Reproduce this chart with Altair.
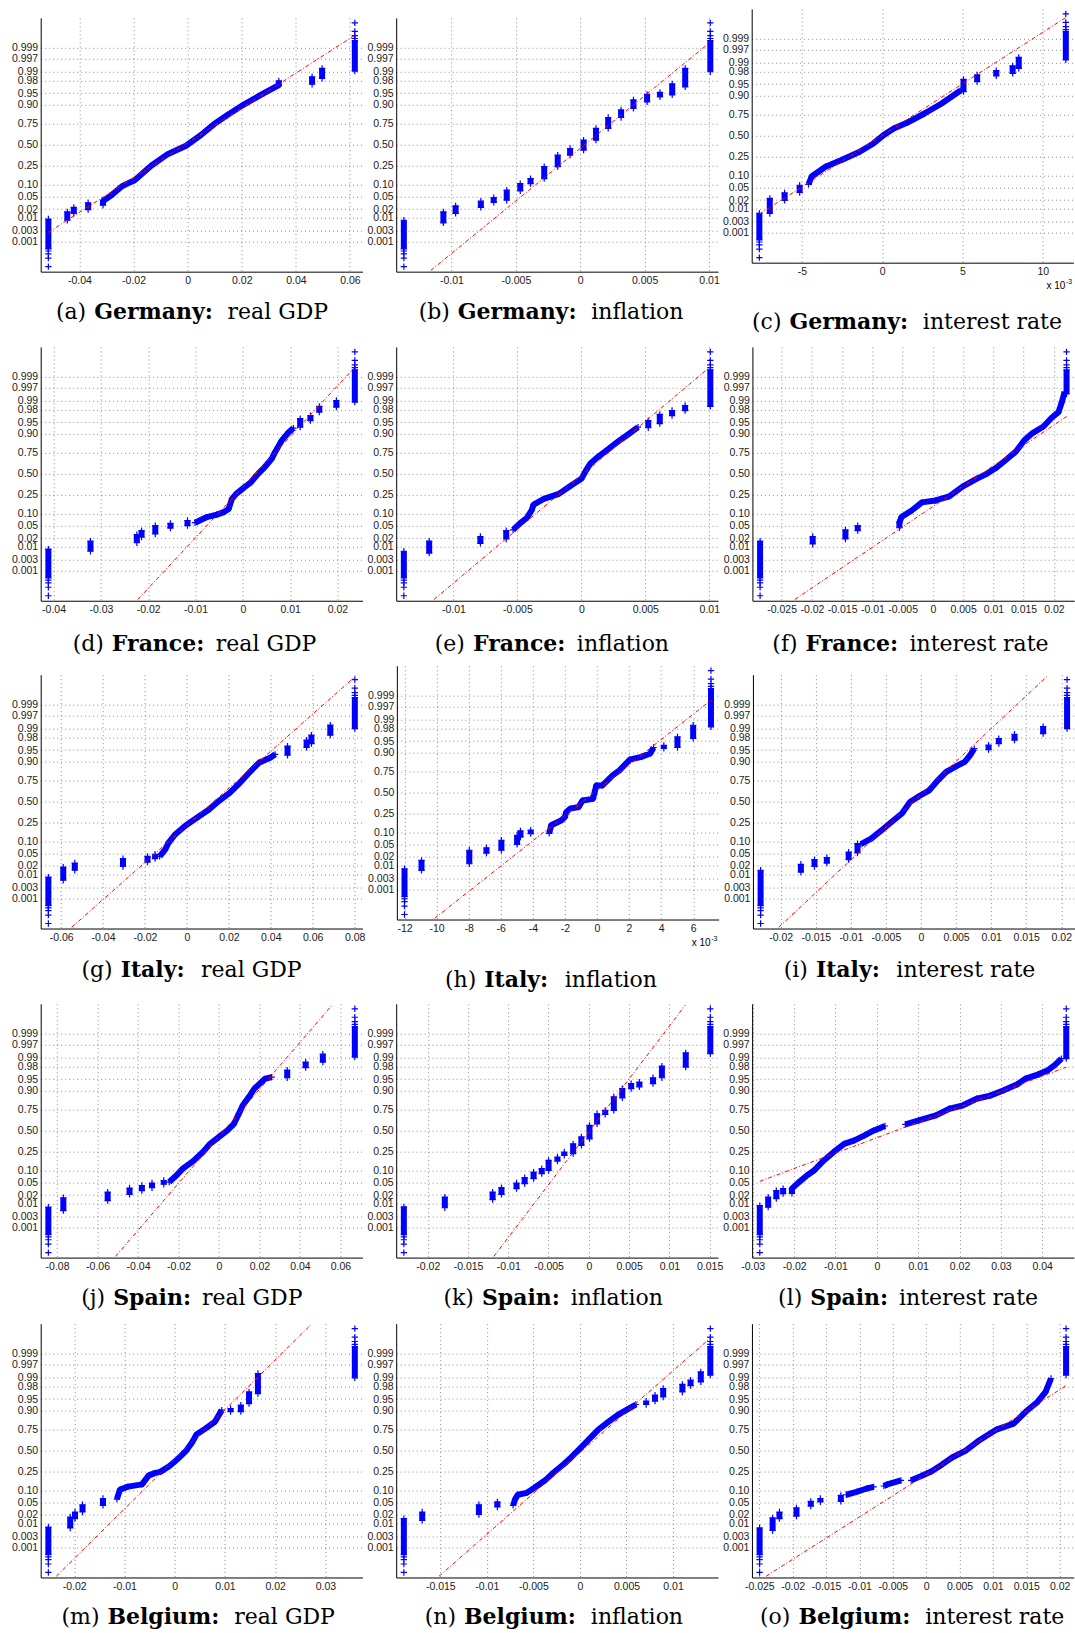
import altair as alt
import pandas as pd
from statistics import NormalDist

BLUE = "#0000ff"
RED = "#ff0000"
PLUS = "M-1,0H1M0,-1V1"

KEYS = list("abcdefghijklmno")
COUNTRY = ["Germany:"] * 3 + ["France:"] * 3 + ["Italy:"] * 3 + ["Spain:"] * 3 + ["Belgium:"] * 3
VARIABLE = ["real GDP", "inflation", "interest rate"] * 5

# smallest / largest draw (stacks of tied values) and the normal score where each stack ends
X_LOW = [-0.0515, -0.0137, -7.65, -0.0411, -0.01387, -0.02856, -0.0661, -12.0, -0.02286,
         -0.0843, -0.02297, -0.0283, -0.02514, -0.01891, -0.02495]
Z_LOW_TOP = [-2.37, -2.41, -2.48, -2.40, -2.47, -2.15, -2.41, -2.43, -2.19,
             -2.44, -2.43, -2.39, -2.44, -2.17, -2.47]
X_HIGH = [0.0618, 0.0101, 11.43, 0.02367, 0.01008, 0.0221, 0.0801, 7.11, 0.02082,
          0.0671, 0.01508, 0.04581, 0.03587, 0.014, 0.02096]
Z_HIGH_BOTTOM = [2.35, 2.33, 2.42, 2.29, 2.15, 2.55, 2.33, 2.10, 2.33,
                 2.35, 2.46, 2.30, 2.32, 2.41, 2.41]
# sample quartiles (reference line passes through them)
Q1 = [-0.0133, -0.00167, -2.09, -0.00155, -0.00182, 0.00284, 0.0014, -1.86, -0.00434,
      -0.0066, -0.0019, -0.00914, -0.0025, -0.00235, 0.00067]
Q3 = [0.0110, 0.00235, 2.01, 0.0068, 0.0021, 0.01322, 0.0242, 1.48, 0.0021,
      0.0114, 0.0021, 0.01831, 0.00602, 0.00282, 0.01064]
# normal scores of the extreme single draws in each tail, and where the solid stack starts
TAIL_Z = [3.89, 3.62, 3.48, 3.39]
STACK_Z = 3.32

# tied draws: (value, normal score low, normal score high)
CLUSTERS = {
    "a": [(-0.0445, -2.41, -2.14), (-0.0421, -2.19, -2.0), (-0.0368, -2.07, -1.85),
          (0.0460, 1.93, 2.17), (0.0497, 2.12, 2.44)],
    "b": [(-0.01063, -2.49, -2.14), (-0.00968, -2.19, -1.95), (-0.00772, -2.00, -1.80),
          (-0.00672, -1.84, -1.69), (-0.00571, -1.77, -1.45), (-0.00466, -1.47, -1.24),
          (-0.00386, -1.24, -1.08), (-0.0028, -1.08, -0.70), (-0.00175, -0.70, -0.33),
          (-0.00079, -0.33, -0.12), (0.00026, -0.17, 0.15), (0.00122, 0.15, 0.52),
          (0.00217, 0.52, 0.87), (0.00317, 0.87, 1.11), (0.00413, 1.16, 1.43),
          (0.00519, 1.37, 1.61), (0.00619, 1.53, 1.67), (0.00714, 1.59, 1.94),
          (0.00815, 1.85, 2.44)],
    "c": [(-7.0, -2.48, -2.0), (-6.08, -2.06, -1.82), (-5.14, -1.81, -1.58), (5.06, 1.41, 1.80),
          (5.91, 1.73, 1.94), (7.10, 1.91, 2.08), (8.12, 1.99, 2.23), (8.50, 2.15, 2.50)],
    "d": [(-0.0322, -2.47, -2.15), (-0.0224, -2.20, -1.94), (-0.0214, -2.02, -1.81),
          (-0.0185, -1.92, -1.65), (-0.0153, -1.73, -1.58), (-0.0117, -1.65, -1.49),
          (0.01212, 1.49, 1.76), (0.01429, 1.70, 1.86), (0.01616, 1.97, 2.15),
          (0.01977, 2.13, 2.34)],
    "e": [(-0.01189, -2.53, -2.15), (-0.00789, -2.22, -2.0), (-0.00587, -2.08, -1.81),
          (0.00523, 1.47, 1.70), (0.00613, 1.60, 1.90), (0.00709, 1.86, 2.02),
          (0.00811, 2.02, 2.18)],
    "f": [(-0.01986, -2.24, -2.0), (-0.01445, -2.08, -1.79), (-0.01242, -1.81, -1.65)],
    "g": [(-0.059, -2.51, -2.09), (-0.0535, -2.19, -1.96), (-0.0305, -2.07, -1.82),
          (-0.0188, -1.93, -1.75), (-0.0152, -1.82, -1.68), (0.0480, 1.48, 1.77),
          (0.0571, 1.73, 1.96), (0.0594, 1.85, 2.12), (0.0684, 2.12, 2.44)],
    "h": [(-10.94, -2.48, -2.16), (-7.96, -2.27, -1.84), (-6.89, -1.93, -1.76),
          (-5.96, -1.84, -1.52), (-4.98, -1.65, -1.36), (-4.77, -1.42, -1.22),
          (-4.13, -1.31, -1.20), (4.17, 1.41, 1.51), (5.02, 1.44, 1.78), (6.0, 1.73, 2.15)],
    "i": [(-0.01712, -2.25, -2.0), (-0.01518, -2.07, -1.85), (-0.01342, -1.96, -1.79),
          (-0.01031, -1.85, -1.61), (-0.00905, -1.64, -1.34), (0.00963, 1.66, 1.80),
          (0.01109, 1.85, 2.01), (0.01333, 1.96, 2.15), (0.01741, 2.17, 2.39)],
    "j": [(-0.0769, -2.55, -2.14), (-0.055, -2.23, -1.96), (-0.0442, -2.03, -1.83),
          (-0.0381, -1.91, -1.75), (-0.0331, -1.82, -1.67), (-0.0273, -1.71, -1.59),
          (0.0337, 1.69, 1.93), (0.0428, 2.01, 2.19), (0.0513, 2.19, 2.44)],
    "k": [(-0.01788, -2.46, -2.12), (-0.01195, -2.20, -1.96), (-0.01085, -2.03, -1.82),
          (-0.00898, -1.85, -1.67), (-0.00797, -1.69, -1.50), (-0.00686, -1.53, -1.32),
          (-0.00585, -1.37, -1.21), (-0.005, -1.27, -0.95), (-0.0039, -0.97, -0.84),
          (-0.00305, -0.79, -0.68), (-0.00195, -0.73, -0.42), (-0.00093, -0.47, -0.20),
          (0.00008, -0.26, 0.17), (0.00102, 0.22, 0.54), (0.00203, 0.52, 0.65),
          (0.0031, 0.65, 1.08), (0.00415, 1.05, 1.34), (0.00525, 1.34, 1.50),
          (0.00627, 1.40, 1.55), (0.00797, 1.50, 1.69), (0.00907, 1.69, 2.06),
          (0.01203, 2.03, 2.48)],
    "l": [(-0.02627, -2.44, -2.12), (-0.0243, -2.17, -1.91), (-0.02266, -2.01, -1.85)],
    "m": [(-0.02079, -2.47, -2.12), (-0.01984, -2.17, -1.96), (-0.01834, -1.96, -1.73),
          (-0.01427, -1.75, -1.53), (0.01114, 1.24, 1.34), (0.01318, 1.24, 1.45),
          (0.01481, 1.50, 1.87), (0.01658, 1.82, 2.46)],
    "n": [(-0.01694, -2.23, -1.96), (-0.01085, -2.04, -1.73), (-0.00887, -1.80, -1.64),
          (0.00711, 1.47, 1.58), (0.00806, 1.58, 1.77), (0.00894, 1.71, 1.98),
          (0.011, 1.87, 2.11), (0.01188, 2.07, 2.25), (0.01298, 2.19, 2.51)],
    "o": [(-0.023, -2.55, -2.15), (-0.02198, -2.17, -1.96), (-0.01943, -2.09, -1.83),
          (-0.01728, -1.77, -1.62), (-0.01585, -1.64, -1.53), (-0.01278, -1.62, -1.43)],
}

# densely packed draws: (value, normal score)
CURVES = {
    "a": [[(-0.0313, -1.93), (-0.0313, -1.80), (-0.0282, -1.61), (-0.0245, -1.34), (-0.0233, -1.28),
           (-0.0196, -1.13), (-0.0135, -0.67), (-0.0074, -0.30), (-0.0006, -0.03), (0.0049, 0.31),
           (0.0098, 0.66), (0.0147, 0.95), (0.0209, 1.29), (0.0282, 1.65), (0.0337, 1.90),
           (0.0337, 2.04)]],
    "b": [],
    "c": [[(-4.59, -1.55), (-4.38, -1.29), (-3.53, -0.99), (-2.46, -0.76), (-1.40, -0.51),
           (-0.55, -0.245), (0.085, 0.02), (0.72, 0.23), (1.57, 0.42), (2.63, 0.71), (3.70, 1.03),
           (4.33, 1.25), (4.90, 1.45)]],
    "d": [[(-0.0101, -1.56), (-0.0076, -1.38), (-0.0055, -1.30), (-0.0040, -1.22), (-0.0030, -1.12),
           (-0.0023, -0.80), (-0.0014, -0.64), (0.0003, -0.43), (0.0017, -0.27), (0.0032, 0.0),
           (0.0046, 0.21), (0.0061, 0.48), (0.0068, 0.69), (0.0082, 1.06), (0.0097, 1.33),
           (0.0107, 1.46)]],
    "e": [[(-0.00533, -1.79), (-0.0048, -1.58), (-0.00427, -1.41), (-0.00389, -1.17),
           (-0.00373, -0.98), (-0.00293, -0.80), (-0.00176, -0.64), (-0.0008, -0.37), (0.0, -0.16),
           (0.00037, 0.11), (0.00069, 0.32), (0.00133, 0.55), (0.00213, 0.80), (0.00293, 1.05),
           (0.00373, 1.28), (0.00443, 1.49)]],
    "f": [[(-0.00553, -1.72), (-0.00553, -1.55), (-0.00519, -1.38), (-0.0035, -1.17),
           (-0.00181, -0.91), (0.00045, -0.85), (0.00271, -0.72), (0.00497, -0.40), (0.00722, -0.16),
           (0.00892, 0.0), (0.01061, 0.21), (0.0123, 0.48), (0.01377, 0.72), (0.01512, 1.07),
           (0.01648, 1.30), (0.01828, 1.51), (0.01964, 1.79), (0.02077, 1.97), (0.02133, 2.29),
           (0.02178, 2.61)]],
    "g": [[(-0.013, -1.75), (-0.0104, -1.53), (-0.0088, -1.32), (-0.0055, -1.04), (-0.0006, -0.76),
           (0.0058, -0.47), (0.0107, -0.245), (0.0149, 0.0), (0.0204, 0.28), (0.0253, 0.60),
           (0.0301, 0.95), (0.0344, 1.24), (0.0399, 1.41), (0.0421, 1.51)]],
    "h": [[(-2.98, -1.30), (-2.85, -1.04), (-2.21, -0.88), (-2.0, -0.78), (-1.91, -0.62),
           (-1.66, -0.51), (-1.15, -0.46), (-0.89, -0.25), (-0.25, -0.20), (-0.04, 0.23),
           (0.34, 0.23), (0.98, 0.55), (1.40, 0.71), (2.04, 1.05), (2.77, 1.14), (3.32, 1.25),
           (3.53, 1.44)]],
    "i": [[(-0.00856, -1.36), (-0.0071, -1.18), (-0.00564, -0.92), (-0.00447, -0.70),
           (-0.00272, -0.38), (-0.00156, -0.01), (-0.00029, 0.17), (0.00117, 0.36), (0.00233, 0.66),
           (0.0036, 0.95), (0.00506, 1.13), (0.00623, 1.27), (0.007, 1.48), (0.00759, 1.69)]],
    "j": [[(-0.0246, -1.64), (-0.0212, -1.44), (-0.0179, -1.21), (-0.0128, -0.97), (-0.0078, -0.67),
           (-0.0044, -0.42), (0.0, -0.20), (0.004, 0.0), (0.0074, 0.22), (0.0098, 0.54),
           (0.0118, 0.81), (0.0148, 1.08), (0.0175, 1.34), (0.0209, 1.55), (0.0226, 1.65),
           (0.026, 1.71)]],
    "k": [],
    "l": [[(-0.02053, -2.0), (-0.02053, -1.85), (-0.01888, -1.65), (-0.01691, -1.43),
           (-0.01527, -1.28), (-0.01281, -0.95), (-0.01034, -0.67), (-0.00788, -0.42),
           (-0.00542, -0.31), (-0.00296, -0.15), (-0.00082, 0.0), (0.00197, 0.15)],
          [(0.0069, 0.20), (0.01018, 0.33), (0.01429, 0.49), (0.01757, 0.70), (0.02085, 0.81),
           (0.02414, 1.02), (0.02742, 1.12), (0.0307, 1.29), (0.03399, 1.48), (0.03596, 1.66),
           (0.03892, 1.79), (0.04138, 1.93), (0.04302, 2.09), (0.04466, 2.30)]],
    "m": [[(-0.0115, -1.55), (-0.0109, -1.25), (-0.0093, -1.15), (-0.0065, -1.08), (-0.0052, -0.80),
           (-0.0040, -0.72), (-0.00285, -0.68), (-0.00109, -0.50), (0.00068, -0.26), (0.00231, 0.0),
           (0.0034, 0.245), (0.00435, 0.51), (0.00611, 0.70), (0.00802, 0.92), (0.00938, 1.29)]],
    "n": [[(-0.00718, -1.75), (-0.00696, -1.55), (-0.00667, -1.41), (-0.00572, -1.35),
           (-0.00477, -1.16), (-0.00374, -0.95), (-0.00279, -0.69), (-0.00169, -0.42),
           (-0.00095, -0.22), (-0.00022, 0.0), (0.00088, 0.33), (0.00198, 0.67), (0.00308, 0.92),
           (0.00403, 1.13), (0.00491, 1.28), (0.00601, 1.47)]],
    "o": [[(-0.01196, -1.41), (-0.01043, -1.32), (-0.0089, -1.21), (-0.00787, -1.16)],
          [(-0.00634, -1.13), (-0.00583, -1.08), (-0.00378, -0.95)],
          [(-0.00225, -0.95), (-0.00072, -0.81), (0.00082, -0.66), (0.00235, -0.45), (0.00389, -0.22),
           (0.00593, 0.0), (0.00798, 0.33), (0.01053, 0.67), (0.01309, 0.86), (0.01513, 1.28),
           (0.01667, 1.55), (0.01789, 1.87), (0.01871, 2.30)]],
}

X_TICKS = {
    "a": [-0.04, -0.02, 0, 0.02, 0.04, 0.06],
    "b": [-0.01, -0.005, 0, 0.005, 0.01],
    "c": [-5, 0, 5, 10],
    "d": [-0.04, -0.03, -0.02, -0.01, 0, 0.01, 0.02],
    "e": [-0.01, -0.005, 0, 0.005, 0.01],
    "f": [-0.025, -0.02, -0.015, -0.01, -0.005, 0, 0.005, 0.01, 0.015, 0.02],
    "g": [-0.06, -0.04, -0.02, 0, 0.02, 0.04, 0.06, 0.08],
    "h": [-12, -10, -8, -6, -4, -2, 0, 2, 4, 6],
    "i": [-0.02, -0.015, -0.01, -0.005, 0, 0.005, 0.01, 0.015, 0.02],
    "j": [-0.08, -0.06, -0.04, -0.02, 0, 0.02, 0.04, 0.06],
    "k": [-0.02, -0.015, -0.01, -0.005, 0, 0.005, 0.01, 0.015],
    "l": [-0.03, -0.02, -0.01, 0, 0.01, 0.02, 0.03, 0.04],
    "m": [-0.02, -0.01, 0, 0.01, 0.02, 0.03],
    "n": [-0.015, -0.01, -0.005, 0, 0.005, 0.01],
    "o": [-0.025, -0.02, -0.015, -0.01, -0.005, 0, 0.005, 0.01, 0.015, 0.02],
}
SCALED = {"c", "h"}  # axis shown in units of 10^-3

PROB_TICKS = [0.001, 0.003, 0.01, 0.02, 0.05, 0.10, 0.25, 0.50, 0.75, 0.90, 0.95, 0.98, 0.99, 0.997, 0.999]
PROB_LABELS = ["0.001", "0.003", "0.01", "0.02", "0.05", "0.10", "0.25", "0.50", "0.75", "0.90",
               "0.95", "0.98", "0.99", "0.997", "0.999"]

# caption layout (relative to each plot's top-left corner): start of the bold word and of the plain text
CAP_XB = [53.5, 61.7, 37.8, 71.2, 76.8, 53.2, 80.0, 87.5, 63.0, 72.5, 85.8, 58.2, 66.8, 67.9, 46.5]
CAP_XN = [187.0, 195.2, 171.3, 175.2, 180.8, 157.2, 160.5, 168.0, 143.5, 161.3, 174.6, 147.0, 193.7, 194.8, 173.4]
CAP_Y = [301, 301, 320.4, 304.7, 304.7, 304.7, 302.7, 321.7, 302.7, 301.7, 301.7, 301.7, 300.6, 300.6, 300.6]

# target positions of the plot areas on the page
ROW_TOP = [8.3, 346.0, 665.0, 1003.3, 1322.7]   # top of the highest plot in each row
ROW_DROP = [[9, 9, 0], [0, 0, 0], [9, 0, 9], [0, 0, 0], [0, 0, 0]]  # extra drop of a plot in its row

W, H = 322, 254
ZMAX = 4.05
GAP = 33            # gap between neighbouring plot areas
LABEL_PAD = 3
LABEL_SIZE = 10.5
CAP_SIZE = 22
CAP_DESC = 4        # caption text box reaches this far below its baseline
ND = NormalDist()
Z_TICKS = [round(ND.inv_cdf(p), 5) for p in PROB_TICKS]
FONT_SANS = "Liberation Sans"
FONT_SERIF = "DejaVu Serif"
CHAR_W = {"0": 0.556, "1": 0.556, "2": 0.556, "3": 0.556, "4": 0.556, "5": 0.556, "6": 0.556,
          "7": 0.556, "8": 0.556, "9": 0.556, ".": 0.278, "-": 0.333}


def tw(s, size=LABEL_SIZE):
    return sum(CHAR_W.get(ch, 0.556) for ch in s) * size


Y_LABEL_EXTENT = max(tw(s) for s in PROB_LABELS) + LABEL_PAD


def y_label_expr():
    parts = []
    for j in range(len(Z_TICKS) - 1, 0, -1):
        mid = (Z_TICKS[j - 1] + Z_TICKS[j]) / 2
        parts.append(f"datum.value > {mid:.5f} ? '{PROB_LABELS[j]}' : ")
    return "".join(parts) + f"'{PROB_LABELS[0]}'"


Y_EXPR = y_label_expr()


def x_domain(i):
    lo, hi = X_LOW[i], X_HIGH[i]
    r = hi - lo
    return [lo - 0.025 * r, hi + 0.025 * r]


def right_overflow(i):
    d0, d1 = x_domain(i)
    over = 0.0
    for v in X_TICKS[KEYS[i]]:
        px = (v - d0) / (d1 - d0) * W
        over = max(over, px + tw(str(v)) / 2 - W)
    return over


def sample_rows(i):
    k = KEYS[i]
    rows = []

    def add(run, x, z, tail=False):
        rows.append({"x": x, "z": z, "run": run, "i": len(rows), "tail": tail})

    for t, z in enumerate(TAIL_Z):
        add(f"lt{t}", X_LOW[i], -z, True)
    add("lo", X_LOW[i], -STACK_Z)
    add("lo", X_LOW[i], Z_LOW_TOP[i])
    for c, (x, z0, z1) in enumerate(CLUSTERS[k]):
        add(f"c{c}", x, z0)
        add(f"c{c}", x, z1)
    for c, curve in enumerate(CURVES[k]):
        for x, z in curve:
            add(f"k{c}", x, z)
    add("hi", X_HIGH[i], Z_HIGH_BOTTOM[i])
    add("hi", X_HIGH[i], STACK_Z)
    for t, z in enumerate(TAIL_Z):
        add(f"ut{t}", X_HIGH[i], z, True)
    return pd.DataFrame(rows)


def ref_line(i):
    z25, z75 = ND.inv_cdf(0.25), ND.inv_cdf(0.75)
    slope = (z75 - z25) / (Q3[i] - Q1[i])
    lim = ZMAX - 0.04
    pts = []
    for x in (X_LOW[i], X_HIGH[i]):
        z = z25 + (x - Q1[i]) * slope
        if z > lim:
            z = lim
            x = Q1[i] + (z - z25) / slope
        elif z < -lim:
            z = -lim
            x = Q1[i] + (z - z25) / slope
        pts.append({"x": x, "z": z})
    return pd.DataFrame(pts)


def text_layer(txt, x, y, size, weight="normal", font=FONT_SERIF, align="left"):
    return alt.Chart(alt.Data(values=[{"v": 0}])).mark_text(
        text=txt, font=font, fontSize=size, fontWeight=weight, align=align,
        baseline="alphabetic", color="#000000"
    ).encode(x=alt.value(x), y=alt.value(y))


def panel(i):
    k = KEYS[i]
    xenc = alt.X("x:Q", scale=alt.Scale(domain=x_domain(i), nice=False, zero=False),
                 axis=alt.Axis(values=X_TICKS[k], labelExpr="'' + datum.value", title=None))
    yenc = alt.Y("z:Q", scale=alt.Scale(domain=[-ZMAX, ZMAX], nice=False, zero=False),
                 axis=alt.Axis(values=Z_TICKS, labelExpr=Y_EXPR, title=None))
    df = sample_rows(i)
    lines = alt.Chart(df[~df["tail"]].drop(columns="tail")).mark_line(
        color=BLUE, strokeWidth=6, strokeJoin="round").encode(
        x=xenc, y=yenc, detail="run:N", order="i:Q")
    pts = alt.Chart(df.drop(columns="tail")).mark_point(
        shape=PLUS, size=40, color=BLUE, strokeWidth=1.2, filled=False, opacity=1,
        strokeJoin="round").encode(x=xenc, y=yenc)
    refl = alt.Chart(ref_line(i)).mark_line(color=RED, strokeWidth=1, strokeJoin="round",
                                             strokeDash=[4, 2, 1, 2]).encode(x=xenc, y=yenc)
    cy = CAP_Y[i]
    layers = [lines, pts, refl,
              text_layer(f"({k})", CAP_XB[i] - 8, cy, CAP_SIZE, align="right"),
              text_layer(COUNTRY[i], CAP_XB[i], cy, CAP_SIZE, weight="bold"),
              text_layer(VARIABLE[i], CAP_XN[i], cy, CAP_SIZE)]
    if k in SCALED:
        layers.append(text_layer("x 10", 295, H + 26, 10, font=FONT_SANS))
        layers.append(text_layer("-3", 314.5, H + 21, 7, font=FONT_SANS))
    return alt.layer(*layers).properties(width=W, height=H)


def spacer(h):
    return alt.Chart(alt.Data(values=[{"v": 0}])).mark_point(opacity=0, size=0, strokeWidth=0).properties(
        width=10, height=h)


def sp_between(i):
    # horizontal spacing so that plot areas sit GAP pixels apart
    return round(GAP - Y_LABEL_EXTENT - right_overflow(i), 2)


def row_bottom(r):
    # page position of the lowest caption box edge in row r
    return max(ROW_TOP[r] + ROW_DROP[r][c] + CAP_Y[3 * r + c] + CAP_DESC for c in range(3))


P = [panel(i) for i in range(15)]

row1 = alt.hconcat(
    alt.vconcat(spacer(ROW_DROP[0][0]), alt.hconcat(P[0], P[1], spacing=sp_between(0)), spacing=0),
    P[2], spacing=sp_between(1))
row2 = alt.hconcat(alt.hconcat(P[3], P[4], spacing=sp_between(3)), P[5], spacing=sp_between(4))
row3 = alt.hconcat(
    alt.hconcat(alt.vconcat(spacer(ROW_DROP[2][0]), P[6], spacing=0), P[7], spacing=sp_between(6)),
    alt.vconcat(spacer(ROW_DROP[2][2]), P[8], spacing=0), spacing=sp_between(7))
row4 = alt.hconcat(alt.hconcat(P[9], P[10], spacing=sp_between(9)), P[11], spacing=sp_between(10))
row5 = alt.hconcat(alt.hconcat(P[12], P[13], spacing=sp_between(12)), P[14], spacing=sp_between(13))

rows = [row1, row2, row3, row4, row5]
stack = rows[0]
for r in range(1, 5):
    stack = alt.vconcat(stack, rows[r], spacing=round(ROW_TOP[r] - row_bottom(r - 1), 2))

chart = stack.properties(
    padding={"left": round(40 - Y_LABEL_EXTENT, 2), "top": ROW_TOP[0], "right": 0, "bottom": 0},
    background="#ffffff",
).configure_axis(
    grid=True, gridColor="#8c8c8c", gridDash=[1, 3], gridWidth=1,
    domainColor="#000000", domainWidth=1, ticks=False,
    labelFont=FONT_SANS, labelFontSize=LABEL_SIZE, labelColor="#1a1a1a",
    labelOverlap=False, labelFlush=False,
).configure_axisX(labelPadding=4).configure_axisY(labelPadding=LABEL_PAD).configure_view(stroke=None)

chart.save("out.html", embed_options={"renderer": "svg", "actions": False})
